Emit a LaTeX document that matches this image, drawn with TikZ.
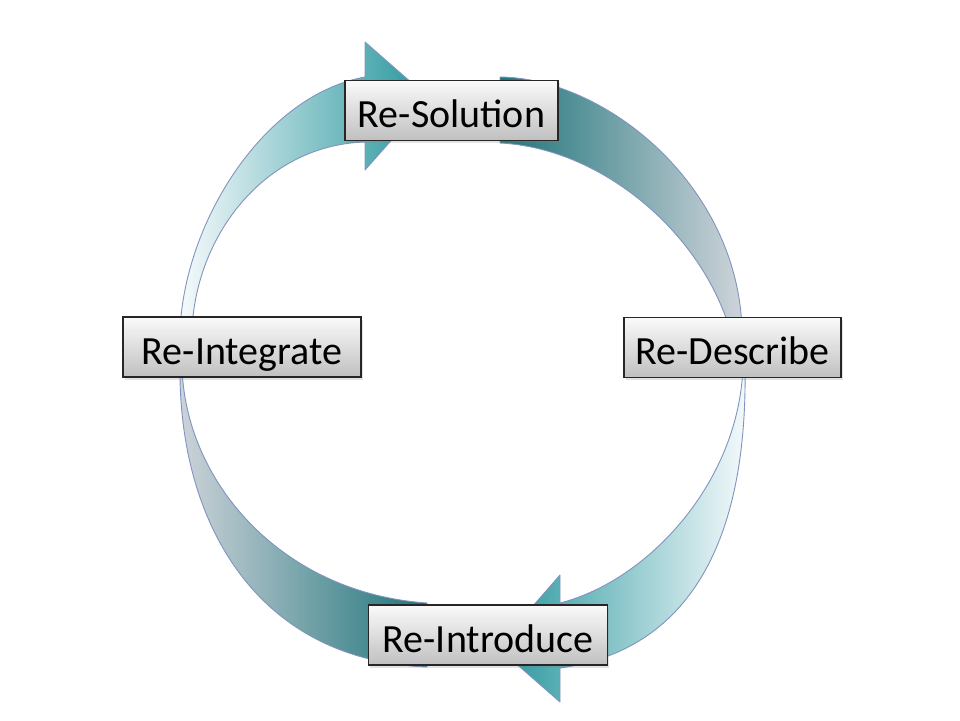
\documentclass[tikz,border=0pt]{standalone}
\usepackage{fontspec}
\setmainfont{Carlito}
\usetikzlibrary{shadows}
\definecolor{tealhead}{RGB}{38,150,156}
\definecolor{tealdark}{RGB}{30,116,122}
\definecolor{arcpale}{RGB}{246,250,252}
\definecolor{arcgray}{RGB}{206,212,218}
\definecolor{arcline}{RGB}{128,148,190}
\definecolor{boxline}{RGB}{38,38,38}
\definecolor{boxtop}{RGB}{250,250,250}
\definecolor{boxbot}{RGB}{192,192,192}
\tikzset{
  arcband/.style={draw=arcline, line width=0.9pt, line join=round},
  stagebox/.style={draw=boxline, line width=1.3pt, top color=boxtop, bottom color=boxbot,
    inner sep=0pt, minimum height=60pt, text height=34pt, text depth=0pt,
    font=\fontsize{40}{48}\selectfont,
    drop shadow={opacity=0.22, shadow xshift=1.5pt, shadow yshift=-2.5pt}}
}
\begin{document}
\begin{tikzpicture}[x=1pt,y=-1pt]
\useasboundingbox[fill=white] (0,0) rectangle (960,720);
% top-left arrow (Re-Integrate -> Re-Solution)
\path[arcband, left color=arcpale, right color=tealhead]
  (180,330) .. controls (185,220) and (265,95) .. (365,77)
  -- (365,42) -- (429,98) -- (365,170) -- (365,142)
  .. controls (265,145) and (196,235) .. (192,330) -- cycle;
% top-right band (Re-Solution -> Re-Describe)
\path[arcband, left color=tealdark, right color=arcgray]
  (500,77) .. controls (605,78) and (738,185) .. (742,330)
  -- (730,330) .. controls (700,230) and (600,148) .. (500,143) -- cycle;
% bottom-right arrow (Re-Describe -> Re-Introduce)
\path[arcband, left color=tealhead, right color=arcpale]
  (745,365) .. controls (748,540) and (690,650) .. (560,668)
  -- (560,702) -- (497,647) -- (560,575) -- (560,603)
  .. controls (650,580) and (740,480) .. (743,365) -- cycle;
% bottom-left band (Re-Introduce -> Re-Integrate)
\path[arcband, left color=arcgray, right color=tealdark]
  (180,365) .. controls (178,520) and (255,660) .. (427,667)
  -- (427,603) .. controls (280,593) and (184,480) .. (182,365) -- cycle;
% stage boxes
\node[stagebox, minimum width=213pt] (sol) at (451.5,110.5) {Re-Solution};
\node[stagebox, minimum width=217pt] (des) at (732.5,347.5) {Re-Describe};
\node[stagebox, minimum width=238pt] (int) at (242,347) {Re-Integrate};
\node[stagebox, minimum width=239pt] (intro) at (488,635) {Re-Introduce};
\end{tikzpicture}
\end{document}
